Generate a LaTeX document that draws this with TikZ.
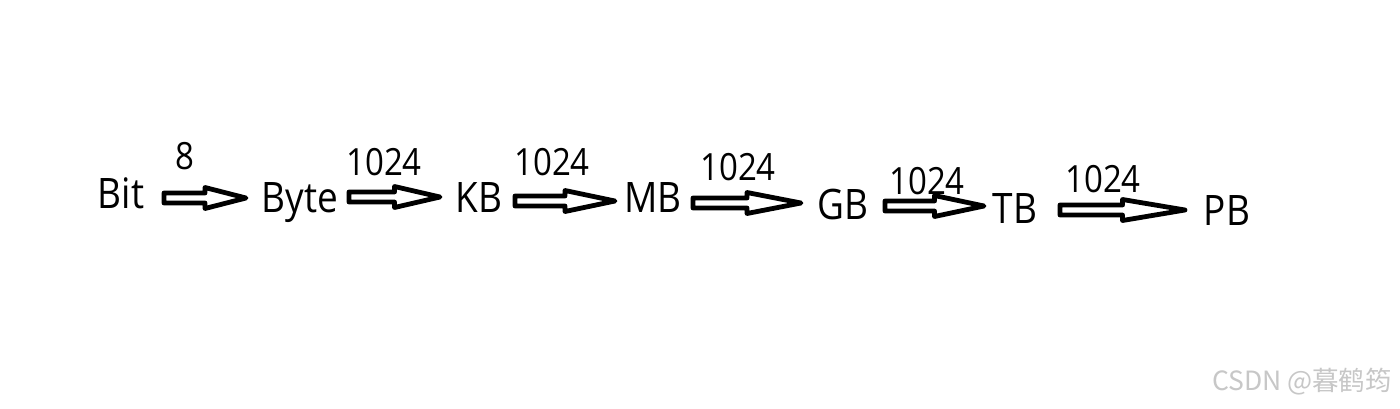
\documentclass[tikz,border=0pt]{standalone}
\usepackage{fontspec}
\setmainfont[FakeStretch=0.88]{Open Sans}
\newfontfamily\wmfont{Noto Sans CJK SC}
\usetikzlibrary{calc}
\tikzset{
  unit/.style={anchor=base, inner sep=0pt, font=\fontsize{42}{46}\selectfont},
  factor/.style={anchor=base, inner sep=0pt, font=\fontsize{37.5}{42}\selectfont},
  blockarrow/.style={draw=black, line width=4.8pt, line join=round, fill=white},
  watermark/.style={anchor=base, inner sep=0pt, text=black!22, font=\wmfont\fontsize{26.5}{30}\selectfont}
}
\newcommand\blkarrow[2]{%
  \draw[blockarrow] let \p1=(#1), \p2=(#2), \n1={(\x1+\x2)/2} in
    (\x1,\y1+5pt) -- (\n1,\y1+5pt) -- (\n1,\y1+10.5pt) -- (\x2,\y1)
    -- (\n1,\y1-10.5pt) -- (\n1,\y1-5pt) -- (\x1,\y1-5pt) -- cycle;}
\begin{document}
\begin{tikzpicture}[x=1pt,y=-1pt]
\useasboundingbox[fill=white] (0,0) rectangle (1400,408);
% units
\node[unit] (bit)  at (121,208) {Bit};
\node[unit] (byte) at (300,212) {Byte};
\node[unit] (kb)   at (479,212) {KB};
\node[unit] (mb)   at (653,212) {MB};
\node[unit] (gb)   at (843,219) {GB};
\node[unit] (tb)   at (1015,223) {TB};
\node[unit] (pb)   at (1227,225) {PB};
% factors
\node[factor] (f1) at (185,169) {8};
\node[factor] (f2) at (384,175) {1024};
\node[factor] (f3) at (552,175) {1024};
\node[factor] (f4) at (738,180) {1024};
\node[factor] (f5) at (927,194) {1024};
\node[factor] (f6) at (1103,192) {1024};
% arrow ends
\coordinate (s1) at (164,198);  \coordinate (e1) at (246,198);
\coordinate (s2) at (349,197);  \coordinate (e2) at (440,197);
\coordinate (s3) at (515,201);  \coordinate (e3) at (615,201);
\coordinate (s4) at (693,203);  \coordinate (e4) at (801,203);
\coordinate (s5) at (885,206);  \coordinate (e5) at (984,206);
\coordinate (s6) at (1060,210); \coordinate (e6) at (1185,210);
\blkarrow{s1}{e1}
\blkarrow{s2}{e2}
\blkarrow{s3}{e3}
\blkarrow{s4}{e4}
\blkarrow{s5}{e5}
\blkarrow{s6}{e6}
% watermark
\node[watermark] (wm) at (1302,390) {CSDN @暮鹤筠};
\end{tikzpicture}
\end{document}
